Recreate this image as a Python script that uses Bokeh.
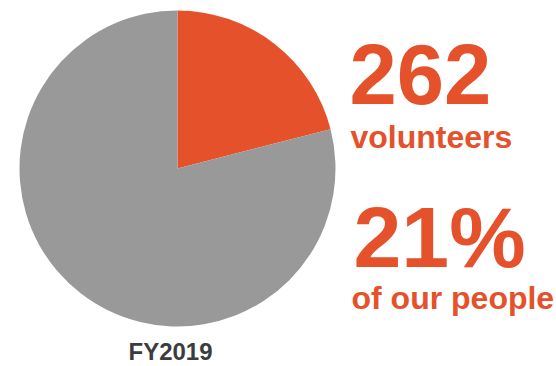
import numpy as np
from bokeh.plotting import figure
from bokeh.models import Range1d, ColumnDataSource
from bokeh.core.properties import value
from bokeh.embed import file_html
from bokeh.resources import INLINE

# Data
categories = ["Volunteers", "Other people"]
shares = [21, 79]          # percent of our people
volunteers = 262
year_label = "FY2019"
colors = ["#E4512B", "#999999"]

W, H = 556, 366
p = figure(width=W, height=H, output_backend="svg", toolbar_location=None,
           x_range=Range1d(0, W), y_range=Range1d(0, H),
           x_axis_type=None, y_axis_type=None, min_border=0)
p.outline_line_color = None
p.grid.visible = False
p.background_fill_color = "white"
p.border_fill_color = "white"

fr = np.array(shares, dtype=float) / sum(shares)
cum = np.concatenate([[0], np.cumsum(fr)])
start = np.pi / 2 - cum[:-1] * 2 * np.pi
end = np.pi / 2 - cum[1:] * 2 * np.pi
src = ColumnDataSource(dict(cat=categories, start=start, end=end, color=colors))
p.wedge(x=177, y=198, radius=158, start_angle="start", end_angle="end",
        direction="clock", fill_color="color", line_color=None, source=src)

font = value("Liberation Sans")
orange = colors[0]
p.text(x=[349], y=[292], text=[str(volunteers)], text_font=font, text_font_style="bold",
       text_font_size="85px", text_color=orange, text_baseline="alphabetic", text_align="left")
p.text(x=[350], y=[230], text=["volunteers"], text_font=font, text_font_style="bold",
       text_font_size="32px", text_color=orange, text_baseline="alphabetic", text_align="left")
p.text(x=[353], y=[130], text=[f"{shares[0]}%"], text_font=font, text_font_style="bold",
       text_font_size="86px", text_color=orange, text_baseline="alphabetic", text_align="left")
p.text(x=[351], y=[69], text=["of our people"], text_font=font, text_font_style="bold",
       text_font_size="32px", text_color=orange, text_baseline="alphabetic", text_align="left")
p.text(x=[170], y=[15], text=[year_label], text_font=font, text_font_style="bold",
       text_font_size="24px", text_color="#3c3c3c", text_baseline="alphabetic", text_align="center")

open("out.html", "w").write(file_html(p, INLINE))
